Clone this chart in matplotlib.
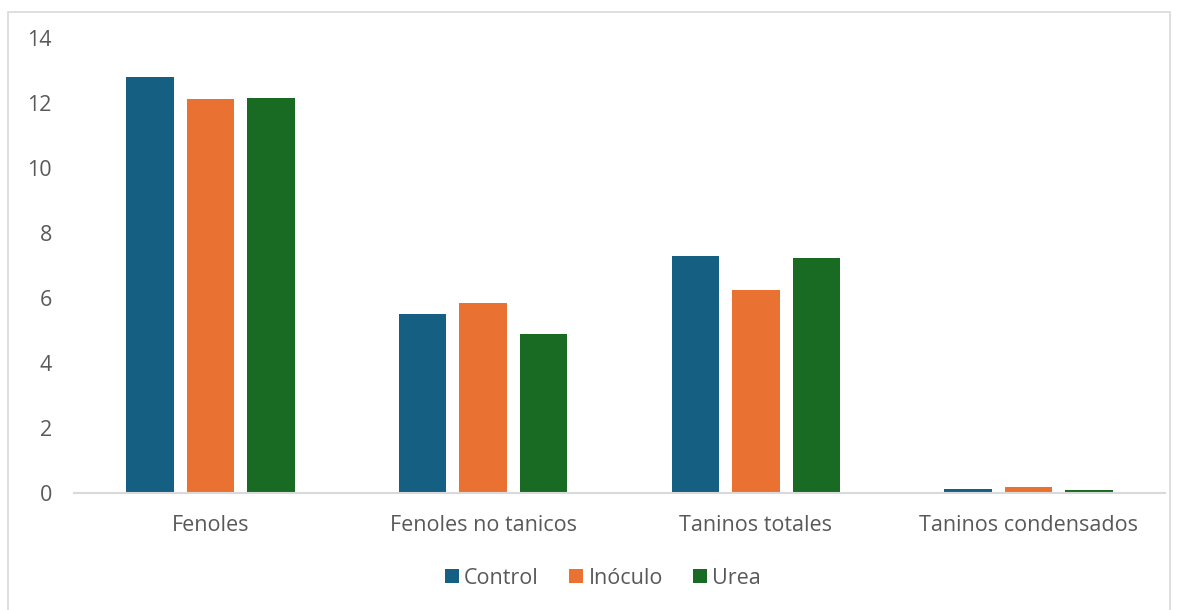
import matplotlib
matplotlib.use("Agg")
import matplotlib.pyplot as plt
import numpy as np
from matplotlib.patches import Rectangle

categories = ["Fenoles", "Fenoles no tanicos", "Taninos totales", "Taninos condensados"]
series_names = ["Control", "Inóculo", "Urea"]
control = [12.80, 5.52, 7.28, 0.14]
inoculo = [12.12, 5.86, 6.25, 0.18]
urea = [12.15, 4.90, 7.24, 0.09]
yticks = [0, 2, 4, 6, 8, 10, 12, 14]

colors = ["#156082", "#E97132", "#196B24"]
text_color = "#595959"

plt.rcParams["font.family"] = ["Open Sans", "DejaVu Sans"]

fig = plt.figure(figsize=(11.79, 6.10), dpi=100)
# light chart-area frame
fig.patches.append(Rectangle((8 / 1179, -0.01), (1170 - 8) / 1179, 1 - 12 / 610 + 0.01,
                             transform=fig.transFigure, fill=False,
                             edgecolor="#D9D9D9", linewidth=1.2))

ax = fig.add_axes([74 / 1179, (610 - 493.2) / 610, (1165 - 74) / 1179, (493.2 - 38) / 610])

x = np.arange(len(categories))
width = 0.174
step = 0.222
for i, (vals, name) in enumerate(zip([control, inoculo, urea], series_names)):
    ax.bar(x + (i - 1) * step, vals, width, color=colors[i], label=name)

ax.set_xlim(-0.5, len(categories) - 0.5)
ax.set_ylim(0, 14)
ax.set_yticks(yticks)
ax.set_yticklabels([str(t) for t in yticks])
ax.set_xticks(x)
ax.set_xticklabels(categories)
ax.tick_params(axis="both", length=0, labelsize=15.5, colors=text_color)
ax.tick_params(axis="y", pad=16)
ax.tick_params(axis="x", pad=16)
for s in ["top", "right", "left"]:
    ax.spines[s].set_visible(False)
ax.spines["bottom"].set_color("#D9D9D9")
ax.spines["bottom"].set_linewidth(1.5)

leg = fig.legend(loc="center", bbox_to_anchor=(603 / 1179, 1 - 578 / 610), ncol=3,
                 frameon=False, fontsize=15.5, handlelength=0.65, handleheight=0.65,
                 handletextpad=0.25, columnspacing=1.4)
for t in leg.get_texts():
    t.set_color(text_color)

fig.savefig("out.png", dpi=100)
